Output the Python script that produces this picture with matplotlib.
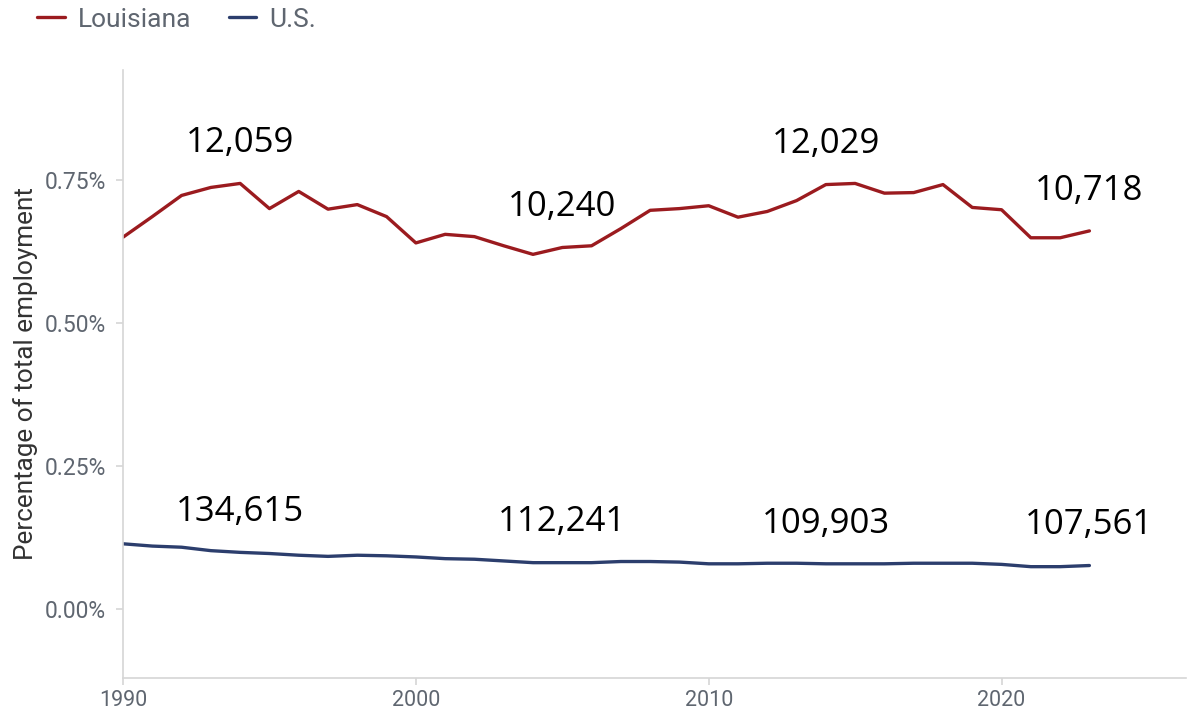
import matplotlib.pyplot as plt
from matplotlib.ticker import FuncFormatter

years = list(range(1990, 2024))

# share of total employment, percent
louisiana = [0.650, 0.686, 0.723, 0.737, 0.744, 0.700, 0.730, 0.699, 0.707, 0.686,
             0.640, 0.655, 0.651, 0.635, 0.620, 0.632, 0.635, 0.665, 0.697, 0.700,
             0.705, 0.685, 0.695, 0.714, 0.742, 0.744, 0.727, 0.728, 0.742, 0.702,
             0.698, 0.649, 0.649, 0.661]
us = [0.114, 0.110, 0.108, 0.102, 0.099, 0.097, 0.094, 0.092, 0.094, 0.093,
      0.091, 0.088, 0.087, 0.084, 0.081, 0.081, 0.081, 0.083, 0.083, 0.082,
      0.079, 0.079, 0.080, 0.080, 0.079, 0.079, 0.079, 0.080, 0.080, 0.080,
      0.078, 0.074, 0.074, 0.076]

label_years = [1994, 2005, 2014, 2023]
louisiana_counts = ['12,059', '10,240', '12,029', '10,718']
us_counts = ['134,615', '112,241', '109,903', '107,561']

red = '#9b1b1f'
navy = '#2c3e6d'
grey_txt = '#5f6670'

fig = plt.figure(figsize=(11.92, 7.10), dpi=100)
ax = fig.add_axes([0.1032, 0.0451, 0.8918, 0.8563])

ax.plot(years, louisiana, color=red, lw=2.4, label='Louisiana', solid_capstyle='round')
ax.plot(years, us, color=navy, lw=2.4, label='U.S.', solid_capstyle='round')

# annotate counts above the line
for series, counts in [(louisiana, louisiana_counts), (us, us_counts)]:
    for yr, txt in zip(label_years, counts):
        val = series[years.index(yr)]
        ax.annotate(txt, (yr, val), xytext=(0, 29), textcoords='offset points',
                    ha='center', va='center', fontsize=25, family='Open Sans',
                    color='black')

ax.set_xlim(1990, 2026.3)
ax.set_ylim(-0.1206, 0.9423)
ax.set_xticks([1990, 2000, 2010, 2020])
ax.set_yticks([0, 0.25, 0.5, 0.75])
ax.yaxis.set_major_formatter(FuncFormatter(lambda v, p: f'{v:.2f}%'))

for s in ['top', 'right']:
    ax.spines[s].set_visible(False)
for s in ['left', 'bottom']:
    ax.spines[s].set_color('#d6d6d6')
    ax.spines[s].set_linewidth(1.2)
ax.tick_params(axis='both', colors='#d6d6d6', length=5, width=1.2,
               labelcolor=grey_txt)
ax.tick_params(axis='y', pad=7, labelsize=16.5)
ax.tick_params(axis='x', pad=4, labelsize=15.5)
for lab in ax.get_xticklabels() + ax.get_yticklabels():
    lab.set_family('Roboto')

ax.set_ylabel('Percentage of total employment', fontsize=18.8, family='Roboto',
              color='#333333', labelpad=5)

fig.legend(loc='upper left', bbox_to_anchor=(0.029, 0.993), frameon=False, ncol=2,
           prop={'family': 'Roboto', 'size': 19}, labelcolor=grey_txt,
           handlelength=1.05, handletextpad=0.5, columnspacing=1.4, borderpad=0.1,
           borderaxespad=0)

fig.savefig('out.png', dpi=100)
